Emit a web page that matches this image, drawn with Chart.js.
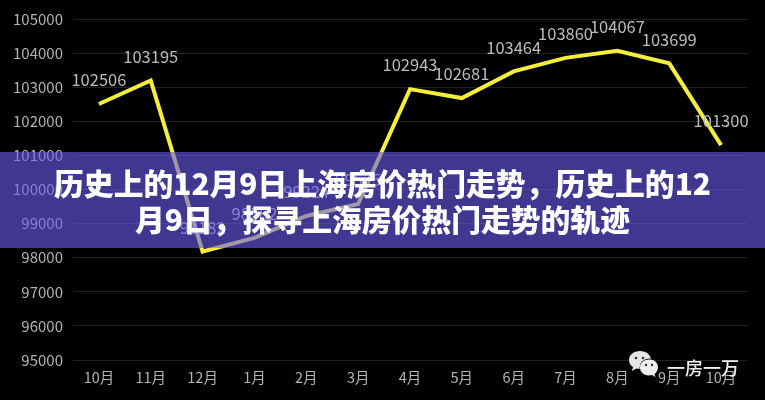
<!DOCTYPE html>
<html>
<head>
<meta charset="utf-8">
<script src="https://cdn.jsdelivr.net/npm/chart.js@4"></script>
<style>
  html, body { margin: 0; padding: 0; background: #000; }
  #wrap { position: relative; width: 765px; height: 400px; overflow: hidden; }
  #banner {
    position: absolute; left: 0; top: 152px; width: 765px; height: 96px;
    background: rgba(105, 92, 240, 0.6);
    color: #fff; text-align: center; white-space: nowrap;
    font: 900 29.8px/36px "Noto Sans CJK SC", sans-serif;
    padding-top: 12px; box-sizing: border-box;
  }
  #mark {
    position: absolute; left: 667px; top: 354px;
    color: #eee; font: 500 18px/26px "Noto Sans CJK SC", sans-serif;
  }
  #icon { position: absolute; left: 628px; top: 350px; }
</style>
</head>
<body>
<div id="wrap">
  <canvas id="lineChart" width="765" height="400"></canvas>
  <svg id="icon" width="34" height="30" viewBox="0 0 34 30">
    <path d="M12 1C5.5 1 1 5 1 10c0 3 1.6 5.400 4 7l-1 4 4.500-2.500c1 .3 2 .4 3.500 .4 6.500 0 11-4 11-8.900S18.500 1 12 1z" fill="#e6e6e6"/>
    <circle cx="21" cy="18" r="9.500" fill="#000"/>
    <path d="M21 9.500c-5 0-9 3.500-9 8s4 8 9 8c1 0 2-.1 3-.4l3.500 2-1-3.200c2.200-1.500 3.500-3.800 3.500-6.400 0-4.500-3.500-8-8-8z" fill="#eee"/>
    <circle cx="8" cy="8" r="1.300" fill="#333"/><circle cx="15" cy="8" r="1.300" fill="#333"/>
    <circle cx="18" cy="15" r="1.200" fill="#333"/><circle cx="24" cy="15" r="1.200" fill="#333"/>
  </svg>
  <div id="mark">一房一万</div>
  <div id="banner">历史上的12月9日上海房价热门走势，历史上的12<br>月9日，探寻上海房价热门走势的轨迹</div>
</div>
<script>
const months = ["10月", "11月", "12月", "1月", "2月", "3月", "4月", "5月", "6月", "7月", "8月", "9月", "10月"];
const prices = [102506, 103195, 98182, 98582, 99224, 99575, 102943, 102681, 103464, 103860, 104067, 103699, 101300];
const yMin = 95000;
const yMax = 105000;
const yStep = 1000;

// no datalabels plugin here, so write the values above the points by hand
const valueLabels = {
  id: "valueLabels",
  afterDatasetsDraw(chart) {
    const ctx = chart.ctx;
    const points = chart.getDatasetMeta(0).data;
    ctx.save();
    ctx.font = '16.5px "Noto Sans CJK SC", sans-serif';
    ctx.fillStyle = "#bdbdbd";
    ctx.textAlign = "center";
    ctx.textBaseline = "middle";
    points.forEach((p, i) => ctx.fillText(prices[i], p.x, p.y - 24));
    ctx.restore();
  },
};

new Chart(document.getElementById("lineChart").getContext("2d"), {
  type: "line",
  data: {
    labels: months,
    datasets: [
      {
        data: prices,
        borderColor: "#f4ef3a",
        borderWidth: 4,
        pointRadius: 0,
        tension: 0,
        borderJoinStyle: "miter",
      },
    ],
  },
  options: {
    responsive: false,
    animation: false,
    layout: { padding: { top: 19, right: 18, left: 0, bottom: 0 } },
    plugins: { legend: { display: false }, tooltip: { enabled: false } },
    scales: {
      x: {
        offset: true,
        grid: { display: false },
        border: { display: false },
        ticks: { color: "#b4b4b4", font: { size: 14.5, family: '"Noto Sans CJK SC", sans-serif' }, padding: 1, maxRotation: 0, autoSkip: false },
        afterFit: (s) => { s.height = 40; },
      },
      y: {
        min: yMin,
        max: yMax,
        grid: { color: "#222222", lineWidth: 1, drawTicks: false },
        border: { display: false },
        ticks: { stepSize: yStep, color: "#b4b4b4", font: { size: 15, family: '"Noto Sans CJK SC", sans-serif' }, padding: 10, callback: (v) => String(v) },
        afterFit: (s) => { s.width = 73; },
      },
    },
  },
  plugins: [valueLabels],
});
</script>
</body>
</html>
